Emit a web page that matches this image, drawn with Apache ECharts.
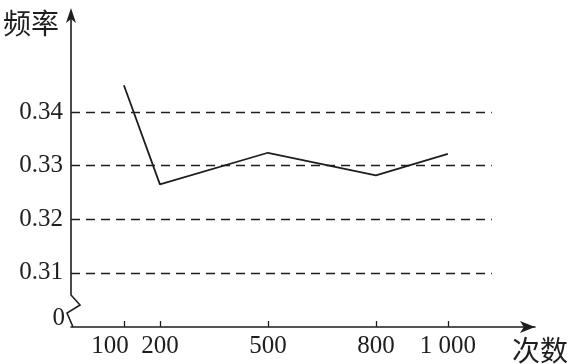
<!DOCTYPE html>
<html>
<head>
<meta charset="utf-8">
<script src="https://cdn.jsdelivr.net/npm/echarts@6/dist/echarts.min.js"></script>
<style>
html,body{margin:0;padding:0;background:#fff;}
#c{width:570px;height:364px;}
</style>
</head>
<body>
<div id="c"></div>
<script>
// ---- data ----
var trials = [100, 200, 500, 800, 1000];           // 次数
var freqs = [0.345, 0.3265, 0.3324, 0.3282, 0.3322]; // 频率
var yTicks = [0.31, 0.32, 0.33, 0.34];
var xTicks = [100, 200, 500, 800, 1000];
var xLabels = ['100', '200', '500', '800', '1 000'];
var yName = '频率';
var xName = '次数';

// ---- layout / style constants ----
var X_MIN = -47, X_MAX = 1242;
var Y_MIN = 0.2999, Y_MAX = 0.3594;
var DASH_END = 1122;
var INK = '#1e1e1e';
var SERIF = '"Liberation Serif", "DejaVu Serif", serif';
var CJK = '"Noto Sans CJK SC", sans-serif';
var GRID = {left: 71, right: 35, top: 8, bottom: 37};

var chart = echarts.init(document.getElementById('c'), null, {renderer: 'canvas'});

var dashData = yTicks.map(function (v) {
  return [{coord: [X_MIN, v]}, {coord: [DASH_END, v]}];
});

chart.setOption({
  animation: false,
  backgroundColor: '#fff',
  grid: GRID,
  xAxis: {
    type: 'value',
    min: X_MIN, max: X_MAX,
    splitLine: {show: false},
    axisLine: {
      show: true, onZero: false,
      symbol: ['none', 'arrow'], symbolSize: [9, 15],
      lineStyle: {color: INK, width: 1.6}
    },
    axisTick: {
      show: true, inside: true, length: 6, customValues: xTicks,
      lineStyle: {color: INK, width: 1.3}
    },
    axisLabel: {
      customValues: xTicks,
      margin: 7,
      color: INK,
      fontFamily: SERIF,
      fontSize: 25,
      formatter: function (v) {
        var i = xTicks.indexOf(v);
        var s = i >= 0 ? xLabels[i] : '';
        if (i === 0) return '{l|' + s + '}';
        return s;
      },
      rich: {l: {padding: [0, 28, 0, 0], fontFamily: SERIF, fontSize: 25, color: INK}}
    }
  },
  yAxis: {
    type: 'value',
    min: Y_MIN, max: Y_MAX,
    splitLine: {show: false},
    axisLine: {show: false},
    axisTick: {show: false},
    axisLabel: {
      customValues: yTicks,
      margin: 8,
      color: INK,
      fontFamily: SERIF,
      fontSize: 25,
      formatter: function (v) { return v.toFixed(2); }
    }
  },
  series: [{
    type: 'line',
    data: trials.map(function (t, i) { return [t, freqs[i]]; }),
    symbol: 'none',
    lineStyle: {color: INK, width: 1.8},
    markLine: {
      silent: true,
      symbol: ['none', 'none'],
      label: {show: false},
      lineStyle: {color: INK, width: 1.4, type: [9, 6]},
      data: dashData
    }
  }]
});

// decorations: broken y axis with arrow, "0" label, axis names
var cx = chart.convertToPixel({xAxisIndex: 0}, X_MIN);
var cy = chart.convertToPixel({yAxisIndex: 0}, Y_MIN);
var ty = chart.convertToPixel({yAxisIndex: 0}, Y_MAX);
if (!isFinite(cx)) cx = GRID.left;
if (!isFinite(cy)) cy = 364 - GRID.bottom;
if (!isFinite(ty)) ty = GRID.top;

chart.setOption({
  graphic: [
    {
      type: 'polyline', z: 10,
      shape: {points: [[cx, ty + 10], [cx, cy - 32], [cx + 9, cy - 22], [cx - 4, cy - 14], [cx + 2, cy]]},
      style: {stroke: INK, lineWidth: 1.6, fill: null}
    },
    {
      type: 'polygon', z: 10,
      shape: {points: [[cx, ty], [cx - 5, ty + 15], [cx, ty + 11], [cx + 5, ty + 15]]},
      style: {fill: INK}
    },
    {
      type: 'text', z: 10,
      x: cx - 6, y: cy - 9,
      style: {text: '0', fontFamily: SERIF, fontSize: 25, fill: INK, align: 'right', verticalAlign: 'middle'}
    },
    {
      type: 'text', z: 10,
      x: 3, y: 23,
      style: {text: yName, fontFamily: CJK, fontSize: 28, fill: INK, align: 'left', verticalAlign: 'middle'}
    },
    {
      type: 'text', z: 10,
      x: 512, y: 350,
      style: {text: xName, fontFamily: CJK, fontSize: 28, fill: INK, align: 'left', verticalAlign: 'middle'}
    }
  ]
});
</script>
</body>
</html>
